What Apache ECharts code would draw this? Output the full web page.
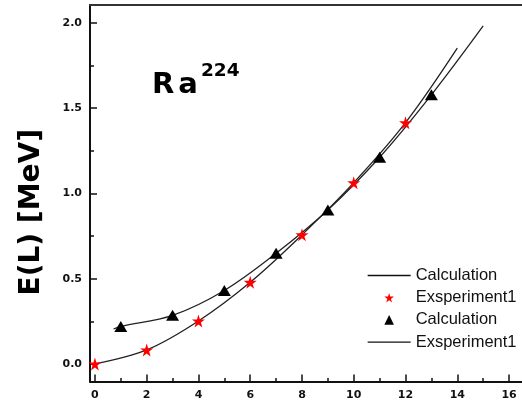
<!DOCTYPE html>
<html>
<head>
<meta charset="utf-8">
<script src="https://cdn.jsdelivr.net/npm/echarts@6/dist/echarts.min.js"></script>
<style>
html,body{margin:0;padding:0;background:#fff;}
#c{width:522px;height:406px;}
</style>
</head>
<body>
<div id="c"></div>
<script>
// Experimental points (red stars)
const starL = [0, 2, 4, 6, 8, 10, 12];
const starE = [0, 0.082, 0.252, 0.479, 0.757, 1.063, 1.415];
// Calculated points (black triangles)
const triL = [1, 3, 5, 7, 9, 11, 13];
const triE = [0.22, 0.285, 0.431, 0.649, 0.903, 1.212, 1.578];
// Curve through the stars
const curveAL = [0, 2, 4, 6, 8, 10, 12, 14];
const curveAE = [0, 0.082, 0.252, 0.479, 0.757, 1.063, 1.415, 1.852];
// Curve through the triangles
const curveBL = [0.72, 1, 3, 5, 7, 9, 11, 13, 15];
const curveBE = [0.205, 0.22, 0.285, 0.431, 0.649, 0.903, 1.212, 1.578, 1.982];
// Tick labels
const xLabels = [0, 2, 4, 6, 8, 10, 12, 14, 16];
const xMinor = [1, 3, 5, 7, 9, 11, 13, 15];
const yLabels = [0, 0.5, 1.0, 1.5, 2.0];
const yMinor = [0.25, 0.75, 1.25, 1.75];
const legendNames = ['Calculation', 'Exsperiment1', 'Calculation ', 'Exsperiment1 '];

const zip = (a, b) => a.map((v, i) => [v, b[i]]);
const starPath = 'path://M50,0 L61,35 L98,35 L68,57 L79,91 L50,70 L21,91 L32,57 L2,35 L39,35 Z';

const XMIN = -0.19, XMAX = 16.5, YMIN = -0.103, YMAX = 2.105;
const tickFont = {fontFamily: 'DejaVu Sans', fontWeight: 'bold', fontSize: 11, color: '#111'};

const chart = echarts.init(document.getElementById('c'), null, {renderer: 'canvas'});
chart.setOption({
  animation: false,
  backgroundColor: '#fff',
  title: {
    text: '{r|R}{a|a}{s|224}',
    left: 147, top: 57,
    textStyle: {
      rich: {
        r: {fontFamily: 'DejaVu Sans', fontWeight: 'bold', fontSize: 29, color: '#000', lineHeight: 46, verticalAlign: 'middle', padding: [0, 4, 0, 0]},
        a: {fontFamily: 'DejaVu Sans', fontWeight: 'bold', fontSize: 29, color: '#000', lineHeight: 46, verticalAlign: 'middle'},
        s: {fontFamily: 'DejaVu Sans', fontWeight: 'bold', fontSize: 18.5, color: '#000', lineHeight: 18, verticalAlign: 'top', padding: [0, 0, 0, 3]}
      }
    }
  },
  grid: {left: 90, right: 0, top: 5, bottom: 24.5, containLabel: false},
  legend: {
    orient: 'vertical',
    left: 362, top: 262,
    itemWidth: 43, itemHeight: 12, itemGap: 5.2,
    textStyle: {fontFamily: 'Liberation Sans', fontSize: 16.5, color: '#111'},
    formatter: n => n.trim(),
    selectedMode: false,
    data: [
      {name: legendNames[0], itemStyle: {opacity: 0}, lineStyle: {width: 1.3, color: '#111'}},
      {name: legendNames[1], lineStyle: {width: 0, opacity: 0}},
      {name: legendNames[2], lineStyle: {width: 0, opacity: 0}},
      {name: legendNames[3], itemStyle: {opacity: 0}, lineStyle: {width: 1.3, color: '#111'}}
    ]
  },
  xAxis: [
    {
      type: 'value', min: XMIN, max: XMAX, position: 'bottom',
      axisLine: {show: true, onZero: false, lineStyle: {color: '#111', width: 2}},
      axisTick: {show: true, inside: true, length: 7, customValues: xLabels, lineStyle: {color: '#111', width: 1.5}},
      axisLabel: {show: true, margin: 8, customValues: xLabels, formatter: v => String(Math.round(v)), ...tickFont},
      splitLine: {show: false}
    },
    {
      type: 'value', min: XMIN, max: XMAX, position: 'bottom',
      axisLine: {show: false, onZero: false},
      axisTick: {show: true, inside: true, length: 3.5, customValues: xMinor, lineStyle: {color: '#111', width: 1.5}},
      axisLabel: {show: false},
      splitLine: {show: false}
    },
    {
      type: 'value', min: XMIN, max: XMAX, position: 'top',
      axisLine: {show: true, onZero: false, lineStyle: {color: '#333', width: 2}},
      axisTick: {show: false},
      axisLabel: {show: false},
      splitLine: {show: false}
    }
  ],
  yAxis: [
    {
      type: 'value', min: YMIN, max: YMAX, position: 'left',
      name: 'E(L) [MeV]', nameLocation: 'middle', nameGap: 44, nameRotate: 90,
      nameTextStyle: {fontFamily: 'DejaVu Sans', fontWeight: 'bold', fontSize: 28, color: '#000', padding: [0, 38, 0, 0]},
      axisLine: {show: true, onZero: false, lineStyle: {color: '#111', width: 2}},
      axisTick: {show: true, inside: true, length: 7, customValues: yLabels, lineStyle: {color: '#111', width: 1.5}},
      axisLabel: {show: true, margin: 8, customValues: yLabels, formatter: v => v.toFixed(1), ...tickFont},
      splitLine: {show: false}
    },
    {
      type: 'value', min: YMIN, max: YMAX, position: 'left',
      axisLine: {show: false, onZero: false},
      axisTick: {show: true, inside: true, length: 4, customValues: yMinor, lineStyle: {color: '#111', width: 1.5}},
      axisLabel: {show: false},
      splitLine: {show: false}
    }
  ],
  series: [
    {
      name: legendNames[0], type: 'line', smooth: 0.35, symbol: 'none', z: 2,
      data: zip(curveAL, curveAE),
      lineStyle: {color: '#222', width: 1.3},
      itemStyle: {color: '#222'}
    },
    {
      name: legendNames[1], type: 'line', symbol: starPath, symbolSize: 13, z: 5,
      data: zip(starL, starE),
      lineStyle: {width: 0, opacity: 0},
      itemStyle: {color: '#ff0000'}
    },
    {
      name: legendNames[2], type: 'line', symbol: 'triangle', symbolSize: [13, 11], z: 5,
      data: zip(triL, triE),
      lineStyle: {width: 0, opacity: 0},
      itemStyle: {color: '#000'}
    },
    {
      name: legendNames[3], type: 'line', smooth: 0.35, symbol: 'none', z: 2,
      data: zip(curveBL, curveBE),
      lineStyle: {color: '#222', width: 1.3},
      itemStyle: {color: '#222'}
    }
  ]
});
</script>
</body>
</html>
